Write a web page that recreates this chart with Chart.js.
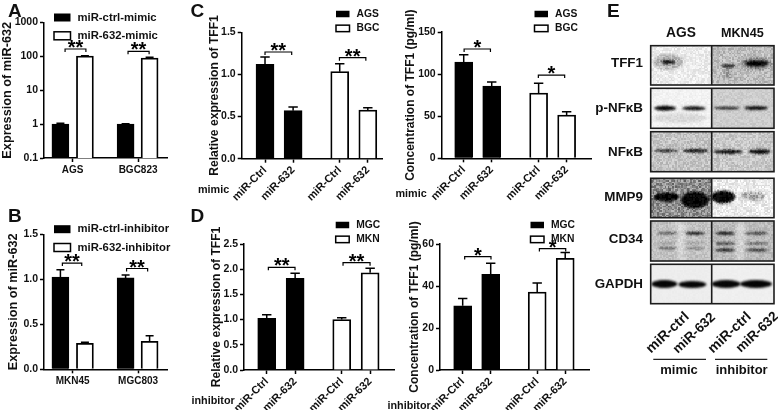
<!DOCTYPE html>
<html>
<head>
<meta charset="utf-8">
<title>miR-632 figure</title>
<script src="https://cdn.jsdelivr.net/npm/chart.js@4/dist/chart.umd.min.js"></script>
<style>
  html, body { margin: 0; padding: 0; background: #fff; }
  #fig { position: relative; width: 778px; height: 413px; overflow: hidden; filter: blur(0.35px); }
  #fig canvas { position: absolute; }
  .t { position: absolute; font-family: "Liberation Sans", Arial, sans-serif; font-weight: bold; color: #111; white-space: nowrap; line-height: 1; }
</style>
</head>
<body>
<div id="fig"></div>
<script>
// panel A
const catsA = ['AGS', 'BGC823']
const legendA = ['miR-ctrl-mimic', 'miR-632-mimic']
const ticksA = ['0.1', '1', '10', '100', '1000']
const ctrlA = [1.0, 1.0]
const ctrlErrA = [0.06, 0.03]
const mimicA = [102, 89]
const mimicErrA = [3, 5]

// panel B
const catsB = ['MKN45', 'MGC803']
const legendB = ['miR-ctrl-inhibitor', 'miR-632-inhibitor']
const ticksB = ['0.0', '0.5', '1.0', '1.5']
const ctrlB = [1.026, 1.015]
const ctrlErrB = [0.081, 0.033]
const inhibB = [0.289, 0.311]
const inhibErrB = [0.011, 0.063]

// panels C and D share the bar labels
const barLabels = ['miR-Ctrl', 'miR-632', 'miR-Ctrl', 'miR-632']
const legendC = ['AGS', 'BGC']
const legendD = ['MGC', 'MKN']

const ticksC1 = ['0.0', '0.5', '1.0', '1.5']
const agsC1 = [1.12, 0.57]
const agsErrC1 = [0.087, 0.043]
const bgcC1 = [1.033, 0.578]
const bgcErrC1 = [0.095, 0.027]

const ticksC2 = ['0', '50', '100', '150']
const agsC2 = [114.4, 85.9]
const agsErrC2 = [8.7, 4.7]
const bgcC2 = [77.6, 51.4]
const bgcErrC2 = [11.4, 4]

const ticksD1 = ['0.0', '0.5', '1.0', '1.5', '2.0', '2.5']
const mgcD1 = [1.025, 1.82]
const mgcErrD1 = [0.073, 0.098]
const mknD1 = [1.0, 1.93]
const mknErrD1 = [0.038, 0.087]

const ticksD2 = ['0', '20', '40', '60']
const mgcD2 = [30.6, 45.6]
const mgcErrD2 = [3.5, 5.2]
const mknD2 = [37.1, 53.2]
const mknErrD2 = [4.3, 2.7]

const fig = document.getElementById('fig')
const FONT = '"Liberation Sans", Arial, sans-serif'
const INK = '#000'

function addText(text, x, y, size, align, rotate) {
    const el = document.createElement('div')
    el.className = 't'
    el.textContent = text
    el.style.left = x + 'px'
    el.style.top = y + 'px'
    el.style.fontSize = size + 'px'
    const shift = align === 'right' ? '-100%' : align === 'left' ? '0' : '-50%'
    el.style.transform = `translate(${shift},-50%)` + (rotate ? ` rotate(${rotate}deg)` : '')
    fig.appendChild(el)
}

// error bars, significance brackets and the legend box
const extras = {
    id: 'extras',
    afterDatasetsDraw(chart, args, opts) {
        const ctx = chart.ctx
        const xs = chart.scales.x
        const ys = chart.scales.y
        ctx.save()
        ctx.strokeStyle = INK
        ctx.fillStyle = INK
        ctx.lineWidth = 1.5

        chart.data.datasets.forEach(ds => {
            ds.data.forEach(pt => {
                const x = xs.getPixelForValue(pt.x)
                const y0 = ys.getPixelForValue(pt.y)
                const y1 = ys.getPixelForValue(pt.y + pt.err)
                ctx.beginPath()
                ctx.moveTo(x, y0)
                ctx.lineTo(x, y1)
                ctx.moveTo(x - opts.cap, y1)
                ctx.lineTo(x + opts.cap, y1)
                ctx.stroke()
            })
        })

        ctx.lineWidth = 1.2
        ctx.textAlign = 'center'
        ctx.textBaseline = 'alphabetic'
        ctx.font = `bold 20px ${FONT}`
        opts.brackets.forEach(b => {
            const x0 = xs.getPixelForValue(b.from)
            const x1 = xs.getPixelForValue(b.to)
            const y = ys.getPixelForValue(b.y)
            ctx.beginPath()
            ctx.moveTo(x0, y + 3)
            ctx.lineTo(x0, y)
            ctx.lineTo(x1, y)
            ctx.lineTo(x1, y + 3)
            ctx.stroke()
            ctx.fillText(b.mark, (x0 + x1) / 2, y + 5)
        })

        const lg = opts.legend
        ctx.font = `bold ${lg.size}px ${FONT}`
        ctx.textAlign = 'left'
        ctx.textBaseline = 'middle'
        lg.names.forEach((name, i) => {
            const y = lg.y + i * lg.gap
            ctx.fillStyle = i === 0 ? INK : '#fff'
            ctx.fillRect(lg.x, y - lg.h / 2, lg.w, lg.h)
            if (i > 0) {
                ctx.lineWidth = 1.5
                ctx.strokeRect(lg.x, y - lg.h / 2, lg.w, lg.h)
            }
            ctx.fillStyle = '#111'
            ctx.fillText(name, lg.x + lg.w + 7, y)
        })
        ctx.restore()
    }
}

function panel(p) {
    const canvas = document.createElement('canvas')
    canvas.width = p.box.w
    canvas.height = p.box.h
    canvas.style.left = p.box.x + 'px'
    canvas.style.top = p.box.y + 'px'
    fig.appendChild(canvas)

    const yTicks = p.yTicks
    new Chart(canvas, {
        type: 'bar',
        data: {
            datasets: [
                { data: p.first.map((v, i) => ({ x: p.firstSlots[i], y: v, err: p.firstErr[i] })), backgroundColor: INK, borderColor: INK, borderWidth: 1, barThickness: p.barW },
                { data: p.second.map((v, i) => ({ x: p.secondSlots[i], y: v, err: p.secondErr[i] })), backgroundColor: '#fff', borderColor: INK, borderWidth: 1.8, barThickness: p.barW }
            ]
        },
        options: {
            responsive: false,
            animation: false,
            grouped: false,
            layout: {
                padding: { left: 0, top: p.plot.t - p.box.y, right: p.box.x + p.box.w - p.plot.r, bottom: 0 }
            },
            plugins: {
                legend: { display: false },
                tooltip: { enabled: false },
                extras: { cap: p.cap, brackets: p.brackets, legend: Object.assign({ names: p.legendNames }, p.legend) }
            },
            scales: {
                x: {
                    type: 'linear',
                    offset: false,
                    min: 0,
                    max: p.xMax,
                    afterBuildTicks: s => { s.ticks = p.xTicks.map(v => ({ value: v })) },
                    afterFit: s => { s.height = p.box.y + p.box.h - p.plot.b },
                    border: { color: INK, width: 1.5 },
                    grid: { offset: false, drawOnChartArea: false, drawTicks: true, tickLength: 4, tickWidth: 1.5, tickColor: INK },
                    ticks: {
                        autoSkip: false,
                        minRotation: p.rot,
                        maxRotation: p.rot,
                        padding: p.rot ? 1 : 2,
                        color: '#111',
                        font: { family: FONT, weight: 'bold', size: p.xSize },
                        callback: (v, i) => p.xLabels[i]
                    }
                },
                y: {
                    type: p.log ? 'logarithmic' : 'linear',
                    min: Number(yTicks[0]),
                    max: Number(yTicks[yTicks.length - 1]),
                    afterBuildTicks: s => { s.ticks = yTicks.map(v => ({ value: Number(v) })) },
                    afterFit: s => { s.width = p.plot.l - p.box.x },
                    border: { color: INK, width: 1.5 },
                    grid: { drawOnChartArea: false, drawTicks: true, tickLength: 4, tickWidth: 1.5, tickColor: INK },
                    ticks: {
                        padding: 2,
                        color: '#111',
                        autoSkip: false,
                        font: { family: FONT, weight: 'bold', size: 10.5 },
                        callback: (v, i) => yTicks[i]
                    },
                    title: {
                        display: true,
                        text: p.yTitle,
                        color: '#111',
                        padding: 0,
                        font: { family: FONT, weight: 'bold', size: p.titleSize }
                    }
                }
            }
        },
        plugins: [extras]
    })
}

panel({
    box: { x: 0, y: 0, w: 190, h: 200 }, plot: { l: 44, t: 22.5, r: 167, b: 158 },
    log: true, xMax: 5.02, barW: 17, cap: 4, rot: 0, xSize: 10,
    first: ctrlA, firstErr: ctrlErrA, firstSlots: [0.67, 3.33],
    second: mimicA, secondErr: mimicErrA, secondSlots: [1.67, 4.31],
    xTicks: [1.17, 3.84], xLabels: catsA, yTicks: ticksA,
    yTitle: 'Expression of miR-632', titleSize: 12.7,
    legendNames: legendA, legend: { x: 54, y: 17.5, gap: 18.3, w: 16.5, h: 8, size: 11.3 },
    brackets: [{ from: 0.86, to: 1.71, y: 165, mark: '**' }, { from: 3.43, to: 4.29, y: 141, mark: '**' }]
})

panel({
    box: { x: 6, y: 205, w: 184, h: 200 }, plot: { l: 44, t: 234.3, r: 167, b: 369.3 },
    xMax: 5.02, barW: 17, cap: 4, rot: 0, xSize: 10,
    first: ctrlB, firstErr: ctrlErrB, firstSlots: [0.67, 3.33],
    second: inhibB, secondErr: inhibErrB, secondSlots: [1.67, 4.31],
    xTicks: [1.17, 3.84], xLabels: catsB, yTicks: ticksB,
    yTitle: 'Expression of miR-632', titleSize: 12.7,
    legendNames: legendB, legend: { x: 48, y: 24.2, gap: 18.3, w: 16.5, h: 8, size: 11.3 },
    brackets: [{ from: 0.75, to: 1.54, y: 1.18, mark: '**' }, { from: 3.37, to: 4.23, y: 1.12, mark: '**' }]
})

panel({
    box: { x: 207, y: 0, w: 185, h: 205 }, plot: { l: 241.7, t: 32.3, r: 382.7, b: 158.7 },
    xMax: 5.02, barW: 18, cap: 4.7, rot: 45, xSize: 11,
    first: agsC1, firstErr: agsErrC1, firstSlots: [0.83, 1.83],
    second: bgcC1, secondErr: bgcErrC1, secondSlots: [3.49, 4.49],
    xTicks: [0.83, 1.83, 3.49, 4.49], xLabels: barLabels, yTicks: ticksC1,
    yTitle: 'Relative expression of TFF1', titleSize: 12.1,
    legendNames: legendC, legend: { x: 129, y: 14, gap: 14.4, w: 13.5, h: 6.5, size: 10.3 },
    brackets: [{ from: 0.83, to: 1.78, y: 1.266, mark: '**' }, { from: 3.48, to: 4.42, y: 1.199, mark: '**' }]
})

panel({
    box: { x: 403, y: 0, w: 195, h: 205 }, plot: { l: 441.7, t: 32, r: 591, b: 158.3 },
    xMax: 5.33, barW: 18, cap: 4.7, rot: 45, xSize: 11,
    first: agsC2, firstErr: agsErrC2, firstSlots: [0.786, 1.786],
    second: bgcC2, secondErr: bgcErrC2, secondSlots: [3.46, 4.46],
    xTicks: [0.786, 1.786, 3.46, 4.46], xLabels: barLabels, yTicks: ticksC2,
    yTitle: 'Concentration of TFF1 (pg/ml)', titleSize: 12,
    legendNames: legendC, legend: { x: 131.5, y: 14, gap: 14.4, w: 13.5, h: 6.5, size: 10.3 },
    brackets: [{ from: 0.80, to: 1.74, y: 129.8, mark: '*' }, { from: 3.45, to: 4.39, y: 98.9, mark: '*' }]
})

panel({
    box: { x: 209, y: 205, w: 190, h: 205 }, plot: { l: 244, t: 244, r: 394, b: 370 },
    xMax: 5.28, barW: 18, cap: 4.7, rot: 45, xSize: 11,
    first: mgcD1, firstErr: mgcErrD1, firstSlots: [0.80, 1.80],
    second: mknD1, secondErr: mknErrD1, secondSlots: [3.44, 4.44],
    xTicks: [0.80, 1.80, 3.44, 4.44], xLabels: barLabels, yTicks: ticksD1,
    yTitle: 'Relative expression of TFF1', titleSize: 12.1,
    legendNames: legendD, legend: { x: 126.7, y: 20, gap: 14.4, w: 13.5, h: 6.5, size: 10.3 },
    brackets: [{ from: 0.857, to: 1.796, y: 2.037, mark: '**' }, { from: 3.486, to: 4.437, y: 2.13, mark: '**' }]
})

panel({
    box: { x: 407, y: 205, w: 190, h: 205 }, plot: { l: 440, t: 244, r: 589.3, b: 370 },
    xMax: 5.33, barW: 18, cap: 4.7, rot: 45, xSize: 11,
    first: mgcD2, firstErr: mgcErrD2, firstSlots: [0.81, 1.81],
    second: mknD2, secondErr: mknErrD2, secondSlots: [3.47, 4.47],
    xTicks: [0.81, 1.81, 3.47, 4.47], xLabels: barLabels, yTicks: ticksD2,
    yTitle: 'Concentration of TFF1 (pg/ml)', titleSize: 12,
    legendNames: legendD, legend: { x: 123.5, y: 20, gap: 14.4, w: 13.5, h: 6.5, size: 10.3 },
    brackets: [{ from: 0.881, to: 1.82, y: 54, mark: '*' }, { from: 3.548, to: 4.488, y: 57.8, mark: '*' }]
})

// panel letters and side labels
addText('A', 8, 9.5, 19, 'left')
addText('B', 8, 214.5, 19, 'left')
addText('C', 190.5, 9.5, 19, 'left')
addText('D', 190.5, 214.5, 19, 'left')
addText('E', 607, 9.5, 19, 'left')
addText('mimic', 198, 188.5, 10.8, 'left')
addText('mimic', 395.5, 193, 10.8, 'left')
addText('inhibitor', 191.5, 400, 10.8, 'left')
addText('inhibitor', 387.5, 405, 10.8, 'left')

// western blot, panel E
const blotRows = ['TFF1', 'p-NFκB', 'NFκB', 'MMP9', 'CD34', 'GAPDH']
const blotGreys = [['#ececec', '#bdbdbd'], ['#f2f2f2', '#cdcdcd'], ['#c4c4c4', '#c8c8c8'], ['#8e8e8e', '#ebebeb'], ['#c2c2c2', '#bcbcbc'], ['#ededed', '#efefef']]
const blotGrain = [26, 12, 24, 34, 16, 3]
const blotTops = [45.7, 88.3, 131.7, 178.3, 221, 264.3]
const blotBottoms = [85, 128.3, 171.7, 217.7, 261, 303.7]
const blotLabelY = [62.7, 108, 151.5, 196.7, 239.3, 284]
// one band: centre x, centre y, width, height, darkness
const blotBands = [
    [668, 62, 30, 16, 0.22], [668.3, 62, 14, 4, 0.9], [728.3, 72, 8, 14, 0.18], [728.3, 65.7, 15, 3, 0.95], [756.7, 63.5, 30, 12, 0.3], [756.7, 63.5, 24, 6, 1],
    [680, 118, 54, 10, 0.1], [665, 108.3, 22, 5, 1], [694, 108.3, 24, 4, 0.95], [726.7, 108, 26, 2.6, 0.9], [756, 108, 24, 4, 0.95],
    [666, 150.7, 24, 2.6, 0.95], [695.7, 150.7, 25, 3.6, 0.95], [728, 151.7, 29, 4, 1], [759.3, 151.7, 22, 4.5, 1],
    [666.7, 197, 25, 9, 1], [695, 200, 28, 17, 1], [723, 197, 24, 13, 1], [753, 196, 24, 9, 0.28],
    [667.3, 233.3, 20, 2.2, 0.7], [667.3, 248.3, 20, 2, 0.6], [667.3, 243, 20, 1.5, 0.3],
    [695, 233.3, 20, 3, 0.95], [695, 248.3, 20, 1.8, 0.5], [695, 243, 20, 1.5, 0.35],
    [725, 233.3, 20, 3.2, 0.95], [725, 243.5, 20, 2.5, 0.75], [725, 250, 20, 2.8, 0.95],
    [756.7, 233.3, 24, 2.6, 0.8], [756.7, 243.5, 24, 2, 0.6], [756.7, 250, 24, 2.5, 0.8],
    [664.3, 284, 26, 8, 1], [692.3, 284.5, 28, 7, 1], [726, 284, 29, 8, 1], [756, 284, 32, 8, 1]
]
// lighter strips between the CD34 lanes
const blotGaps = [[680.5, 241, 7, 40], [740.5, 241, 8, 40]]

// film grain, same pattern on every run
function grain(x, y) {
    const s = Math.sin(Math.floor(x / 1.5) * 12.9898 + Math.floor(y / 1.5) * 78.233) * 43758.5453
    return s - Math.floor(s) - 0.5
}

function drawBlot() {
    const canvas = document.createElement('canvas')
    canvas.width = 778
    canvas.height = 413
    canvas.style.left = '0'
    canvas.style.top = '0'
    fig.appendChild(canvas)
    const ctx = canvas.getContext('2d', { willReadFrequently: true })
    const left = 650.7, mid = 711.7, right = 774

    blotRows.forEach((name, r) => {
        const top = blotTops[r], h = blotBottoms[r] - top
        ctx.fillStyle = blotGreys[r][0]
        ctx.fillRect(left, top, mid - left, h)
        ctx.fillStyle = blotGreys[r][1]
        ctx.fillRect(mid, top, right - mid, h)

        ctx.save()
        ctx.beginPath()
        ctx.rect(left, top, right - left, h)
        ctx.clip()
        ctx.filter = 'blur(2px)'
        ctx.fillStyle = 'rgba(255,255,255,0.4)'
        blotGaps.forEach(g => {
            if (g[1] > top && g[1] < top + h) ctx.fillRect(g[0] - g[2] / 2, g[1] - g[3] / 2, g[2], g[3])
        })
        ctx.filter = 'blur(1.2px)'
        blotBands.forEach(b => {
            if (b[1] < top || b[1] > top + h) return
            ctx.fillStyle = `rgba(5,5,5,${b[4]})`
            ctx.beginPath()
            ctx.ellipse(b[0], b[1], b[2] / 2, b[3] / 2, 0, 0, Math.PI * 2)
            ctx.fill()
        })
        ctx.restore()

        // speckle is strongest on the band edges, like an exposed film
        const ix = Math.floor(left), iy = Math.floor(top), iw = Math.ceil(right - left), ih = Math.ceil(h)
        const img = ctx.getImageData(ix, iy, iw, ih)
        for (let j = 0; j < ih; j++) {
            for (let i = 0; i < iw; i++) {
                const k = (j * iw + i) * 4
                const v = img.data[k]
                const edge = 1 - Math.abs(2 * v / 255 - 1)
                const out = v + grain(ix + i, iy + j) * blotGrain[r] * (1 + 2 * edge)
                img.data[k] = img.data[k + 1] = img.data[k + 2] = out
            }
        }
        ctx.putImageData(img, ix, iy)

        ctx.strokeStyle = '#1c1c1c'
        ctx.lineWidth = 1.6
        ctx.strokeRect(left, top, right - left, h)
        ctx.beginPath()
        ctx.moveTo(mid, top)
        ctx.lineTo(mid, top + h)
        ctx.stroke()
        addText(name, 643, blotLabelY[r], 13.4, 'right')
    })

    ctx.strokeStyle = '#222'
    ctx.lineWidth = 1.3
    ctx.beginPath()
    ctx.moveTo(653.3, 359.3)
    ctx.lineTo(706, 359.3)
    ctx.moveTo(715, 359.3)
    ctx.lineTo(767.3, 359.3)
    ctx.stroke()
}
drawBlot()

addText('AGS', 681, 33, 13.8, 'center')
addText('MKN45', 742.3, 33, 12.6, 'center')
addText('miR-ctrl', 666.5, 332, 14, 'center', -43)
addText('miR-632', 694, 332.5, 13.5, 'center', -43)
addText('miR-ctrl', 728.5, 332, 14, 'center', -43)
addText('miR-632', 757, 331.5, 13.5, 'center', -43)
addText('mimic', 679, 369, 13, 'center')
addText('inhibitor', 741.7, 369, 13, 'center')
</script>
</body>
</html>
